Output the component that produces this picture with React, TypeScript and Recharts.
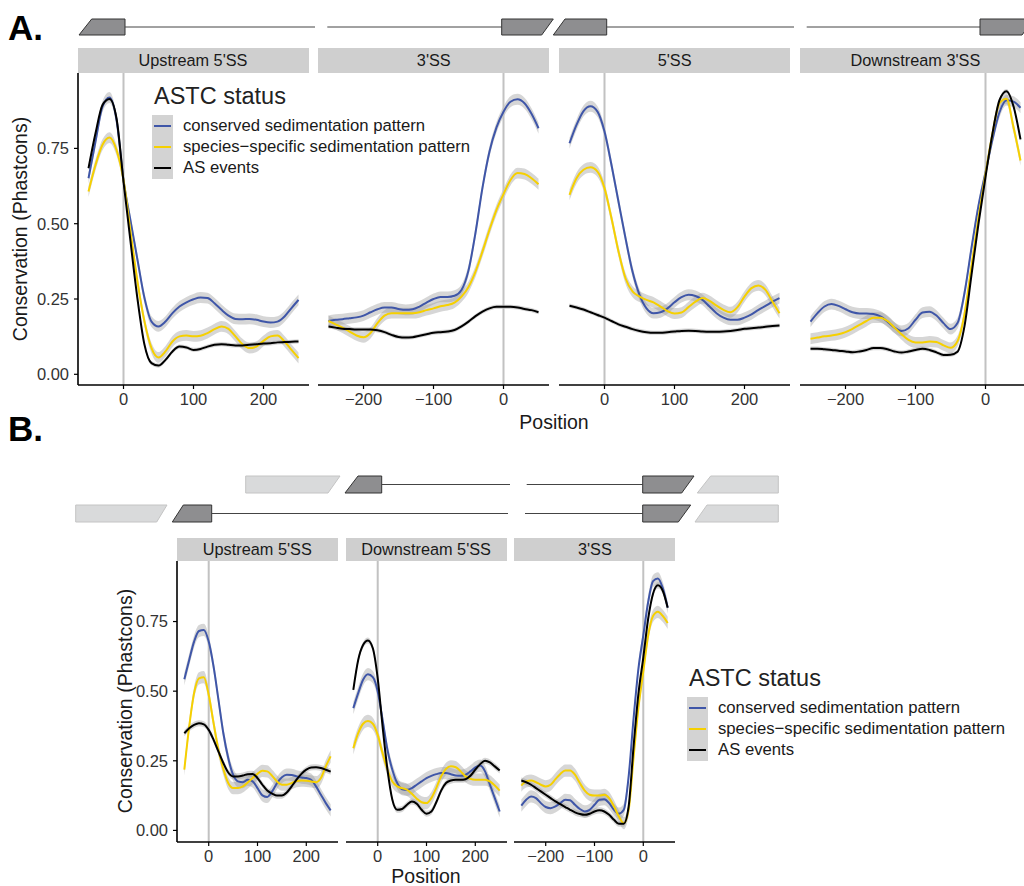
import { ComposedChart, Line, Area, XAxis, YAxis, ReferenceLine } from 'recharts'

// positions relative to the splice site (nt)
const pos5 = [-50, -40, -30, -20, -10, 0, 10, 20, 30, 40, 50, 60, 70, 80, 90, 100, 110, 120, 130, 140, 150, 160, 170, 180, 190, 200, 210, 220, 230, 240, 250]
const pos3 = [-250, -240, -230, -220, -210, -200, -190, -180, -170, -160, -150, -140, -130, -120, -110, -100, -90, -80, -70, -60, -50, -40, -30, -20, -10, 0, 10, 20, 30, 40, 50]

const ticks5 = [0, 100, 200]
const ticks3 = [-200, -100, 0]
const yTicks = [0, 0.25, 0.5, 0.75]

const seriesNames = ['conserved sedimentation pattern', 'species\u2212specific sedimentation pattern', 'AS events']

// panel A
const aUp5Cons = [0.651, 0.773, 0.889, 0.919, 0.845, 0.645, 0.51, 0.38, 0.253, 0.175, 0.159, 0.175, 0.203, 0.225, 0.239, 0.249, 0.255, 0.253, 0.236, 0.214, 0.195, 0.184, 0.183, 0.184, 0.181, 0.175, 0.172, 0.175, 0.192, 0.22, 0.247]
const aUp5Spec = [0.607, 0.695, 0.762, 0.786, 0.745, 0.645, 0.474, 0.308, 0.175, 0.087, 0.056, 0.076, 0.109, 0.126, 0.129, 0.126, 0.128, 0.137, 0.15, 0.159, 0.151, 0.126, 0.1, 0.087, 0.092, 0.111, 0.126, 0.129, 0.109, 0.081, 0.054]
const aUp5As = [0.684, 0.8, 0.894, 0.914, 0.85, 0.64, 0.441, 0.25, 0.098, 0.037, 0.029, 0.048, 0.076, 0.092, 0.089, 0.081, 0.084, 0.092, 0.098, 0.1, 0.098, 0.096, 0.096, 0.098, 0.1, 0.102, 0.103, 0.106, 0.107, 0.108, 0.109]

const a3ssCons = [0.177, 0.181, 0.183, 0.186, 0.189, 0.195, 0.206, 0.216, 0.222, 0.222, 0.217, 0.214, 0.216, 0.225, 0.238, 0.25, 0.257, 0.257, 0.261, 0.28, 0.345, 0.47, 0.62, 0.74, 0.82, 0.872, 0.905, 0.913, 0.9, 0.865, 0.817]
const a3ssSpec = [0.177, 0.166, 0.155, 0.142, 0.129, 0.123, 0.137, 0.17, 0.195, 0.203, 0.203, 0.203, 0.203, 0.206, 0.213, 0.219, 0.226, 0.23, 0.238, 0.258, 0.29, 0.341, 0.408, 0.48, 0.546, 0.598, 0.645, 0.668, 0.665, 0.651, 0.631]
const a3ssAs = [0.159, 0.155, 0.151, 0.15, 0.149, 0.149, 0.149, 0.146, 0.14, 0.131, 0.124, 0.122, 0.123, 0.128, 0.133, 0.138, 0.14, 0.142, 0.147, 0.159, 0.175, 0.193, 0.208, 0.219, 0.224, 0.224, 0.224, 0.222, 0.217, 0.213, 0.206]

const a5ssCons = [0.767, 0.828, 0.874, 0.89, 0.872, 0.806, 0.695, 0.573, 0.452, 0.341, 0.264, 0.219, 0.203, 0.206, 0.219, 0.239, 0.256, 0.264, 0.26, 0.247, 0.225, 0.203, 0.188, 0.181, 0.181, 0.188, 0.199, 0.214, 0.227, 0.241, 0.253]
const a5ssSpec = [0.596, 0.651, 0.679, 0.687, 0.673, 0.618, 0.518, 0.408, 0.319, 0.275, 0.258, 0.247, 0.239, 0.225, 0.21, 0.202, 0.205, 0.223, 0.241, 0.253, 0.244, 0.228, 0.214, 0.206, 0.223, 0.258, 0.286, 0.295, 0.28, 0.241, 0.203]
const a5ssAs = [0.228, 0.222, 0.215, 0.206, 0.197, 0.188, 0.177, 0.166, 0.158, 0.15, 0.144, 0.14, 0.138, 0.138, 0.14, 0.142, 0.144, 0.145, 0.144, 0.142, 0.141, 0.141, 0.142, 0.144, 0.147, 0.151, 0.153, 0.155, 0.158, 0.16, 0.162]

const aDown3Cons = [0.175, 0.203, 0.225, 0.233, 0.227, 0.216, 0.206, 0.202, 0.202, 0.2, 0.192, 0.175, 0.155, 0.144, 0.153, 0.181, 0.205, 0.208, 0.195, 0.17, 0.15, 0.17, 0.27, 0.42, 0.56, 0.67, 0.78, 0.87, 0.91, 0.905, 0.885]
const aDown3Spec = [0.118, 0.122, 0.126, 0.129, 0.133, 0.14, 0.151, 0.164, 0.177, 0.188, 0.188, 0.177, 0.155, 0.133, 0.114, 0.106, 0.106, 0.109, 0.107, 0.096, 0.088, 0.11, 0.2, 0.36, 0.52, 0.665, 0.8, 0.9, 0.915, 0.82, 0.71]
const aDown3As = [0.085, 0.085, 0.083, 0.081, 0.078, 0.076, 0.073, 0.076, 0.081, 0.087, 0.087, 0.083, 0.076, 0.072, 0.076, 0.081, 0.085, 0.081, 0.073, 0.064, 0.065, 0.075, 0.16, 0.33, 0.5, 0.655, 0.8, 0.91, 0.94, 0.89, 0.78]

// panel B
const bUp5Cons = [0.543, 0.612, 0.678, 0.716, 0.72, 0.678, 0.588, 0.469, 0.349, 0.26, 0.2, 0.176, 0.173, 0.182, 0.176, 0.152, 0.126, 0.12, 0.14, 0.17, 0.191, 0.2, 0.199, 0.194, 0.19, 0.188, 0.182, 0.158, 0.128, 0.098, 0.072]
const bUp5Spec = [0.218, 0.373, 0.493, 0.546, 0.55, 0.487, 0.385, 0.289, 0.22, 0.17, 0.152, 0.152, 0.158, 0.172, 0.188, 0.203, 0.214, 0.212, 0.196, 0.176, 0.164, 0.164, 0.17, 0.177, 0.179, 0.178, 0.176, 0.173, 0.188, 0.23, 0.266]
const bUp5As = [0.349, 0.367, 0.379, 0.385, 0.381, 0.361, 0.325, 0.283, 0.242, 0.208, 0.194, 0.194, 0.197, 0.202, 0.203, 0.188, 0.164, 0.143, 0.132, 0.125, 0.125, 0.136, 0.158, 0.182, 0.203, 0.218, 0.226, 0.227, 0.224, 0.218, 0.211]

const bDown5Cons = [0.439, 0.493, 0.541, 0.561, 0.55, 0.499, 0.397, 0.289, 0.218, 0.17, 0.148, 0.146, 0.152, 0.164, 0.176, 0.188, 0.196, 0.202, 0.206, 0.206, 0.202, 0.197, 0.196, 0.2, 0.212, 0.226, 0.233, 0.212, 0.164, 0.116, 0.068]
const bDown5Spec = [0.295, 0.349, 0.383, 0.393, 0.383, 0.343, 0.277, 0.218, 0.176, 0.158, 0.152, 0.146, 0.132, 0.114, 0.101, 0.098, 0.116, 0.152, 0.194, 0.221, 0.23, 0.227, 0.212, 0.194, 0.185, 0.182, 0.182, 0.182, 0.176, 0.161, 0.143]
const bDown5As = [0.505, 0.612, 0.666, 0.682, 0.654, 0.546, 0.373, 0.218, 0.11, 0.074, 0.077, 0.092, 0.104, 0.096, 0.074, 0.06, 0.068, 0.101, 0.143, 0.17, 0.179, 0.182, 0.182, 0.184, 0.196, 0.218, 0.238, 0.25, 0.244, 0.23, 0.215]

const b3ssCons = [0.089, 0.11, 0.122, 0.116, 0.098, 0.084, 0.08, 0.086, 0.098, 0.11, 0.108, 0.092, 0.077, 0.068, 0.074, 0.092, 0.11, 0.112, 0.098, 0.074, 0.06, 0.074, 0.194, 0.4, 0.58, 0.7, 0.82, 0.895, 0.905, 0.87, 0.8]
const b3ssSpec = [0.161, 0.176, 0.179, 0.173, 0.164, 0.158, 0.164, 0.184, 0.203, 0.215, 0.215, 0.2, 0.17, 0.143, 0.128, 0.125, 0.125, 0.128, 0.116, 0.086, 0.05, 0.026, 0.074, 0.26, 0.44, 0.57, 0.7, 0.77, 0.785, 0.77, 0.745]
const b3ssAs = [0.179, 0.173, 0.164, 0.152, 0.14, 0.128, 0.116, 0.104, 0.094, 0.084, 0.074, 0.065, 0.059, 0.056, 0.06, 0.068, 0.072, 0.068, 0.056, 0.038, 0.024, 0.024, 0.086, 0.3, 0.49, 0.62, 0.76, 0.85, 0.88, 0.86, 0.8]

// half width of the grey ribbon (conserved, species-specific, AS events)
const ribbonA = [0.018, 0.018, 0.007]
const ribbonB = [0.022, 0.022, 0.011]

const BLUE = '#3f56a8'
const GOLD = '#f6d000'
const FONT = '"Liberation Sans", Arial, Helvetica, sans-serif'

function makeRows(pos: number[], cons: number[], spec: number[], as: number[], rib: number[]) {
  return pos.map((p, i) => ({
    pos: p,
    cons: cons[i],
    spec: spec[i],
    as: as[i],
    consBand: [cons[i] - rib[0], cons[i] + rib[0]],
    specBand: [spec[i] - rib[1], spec[i] + rib[1]],
    asBand: [as[i] - rib[2], as[i] + rib[2]],
  }))
}

const fmtX = (v: number) => (v < 0 ? '\u2212' + Math.abs(v) : String(v))

function Facet({ left, top, width, height, rows, xDomain, xTicks, yDomain, showY }: any) {
  const yw = showY ? 70 : 0
  const xh = 36
  const tickStyle = { fill: '#333', fontSize: 16.5, fontFamily: FONT }
  return (
    <div style={{ position: 'absolute', left: left - yw, top }}>
      <ComposedChart width={width + yw} height={height + xh} data={rows} margin={{ top: 0, right: 0, bottom: 0, left: 0 }}>
        <XAxis
          type="number"
          dataKey="pos"
          domain={xDomain}
          ticks={xTicks}
          interval={0}
          allowDataOverflow
          height={xh}
          axisLine={{ stroke: '#000', strokeWidth: 1.6 }}
          tickLine={{ stroke: '#000', strokeWidth: 1.2 }}
          tickSize={4}
          tickMargin={4}
          tick={tickStyle}
          tickFormatter={fmtX}
        />
        <YAxis
          type="number"
          domain={yDomain}
          allowDataOverflow
          ticks={yTicks}
          hide={!showY}
          width={yw}
          axisLine={{ stroke: '#000', strokeWidth: 1.6 }}
          tickLine={{ stroke: '#000', strokeWidth: 1.2 }}
          tickSize={4}
          tickMargin={5}
          tick={tickStyle}
          tickFormatter={(v: number) => v.toFixed(2)}
        />
        <ReferenceLine x={0} stroke="#c2c2c2" strokeWidth={2} />
        <Area type="monotone" dataKey="consBand" stroke="none" fill="#999" fillOpacity={0.4} activeDot={false} isAnimationActive={false} />
        <Area type="monotone" dataKey="specBand" stroke="none" fill="#999" fillOpacity={0.4} activeDot={false} isAnimationActive={false} />
        <Area type="monotone" dataKey="asBand" stroke="none" fill="#999" fillOpacity={0.4} activeDot={false} isAnimationActive={false} />
        <Line type="monotone" dataKey="cons" stroke={BLUE} strokeWidth={2} dot={false} activeDot={false} isAnimationActive={false} />
        <Line type="monotone" dataKey="spec" stroke={GOLD} strokeWidth={2} dot={false} activeDot={false} isAnimationActive={false} />
        <Line type="monotone" dataKey="as" stroke="#000" strokeWidth={2} dot={false} activeDot={false} isAnimationActive={false} />
      </ComposedChart>
    </div>
  )
}

function Strip({ left, top, width, height, label }: any) {
  return (
    <div style={{ position: 'absolute', left, top, width, height, background: '#cfcfcf', display: 'flex', alignItems: 'center', justifyContent: 'center', fontSize: 16.3, color: '#1a1a1a' }}>
      {label}
    </div>
  )
}

function Legend({ left, top }: any) {
  const cols = [BLUE, GOLD, '#000']
  return (
    <div style={{ position: 'absolute', left, top }}>
      <div style={{ fontSize: 23.5, lineHeight: '23.5px', color: '#222', marginLeft: 2, whiteSpace: 'nowrap' }}>ASTC status</div>
      <div style={{ position: 'absolute', left: 0, top: 30, width: 21, height: 64, background: '#d3d3d3' }} />
      {seriesNames.map((n, i) => (
        <div key={n} style={{ position: 'absolute', left: 0, top: 30.5 + i * 21.2, height: 21, display: 'flex', alignItems: 'center', whiteSpace: 'nowrap' }}>
          <div style={{ width: 17, height: 2, background: cols[i], marginLeft: 2 }} />
          <span style={{ marginLeft: 12, fontSize: 16.7, color: '#1a1a1a' }}>{n}</span>
        </div>
      ))}
    </div>
  )
}

const dark = { fill: '#8e8e90', stroke: '#333', strokeWidth: 1 }
const light = { fill: '#d9dadb', stroke: '#c4c4c4', strokeWidth: 1 }
const intron = { stroke: '#444', strokeWidth: 1 }

function Diagrams() {
  return (
    <svg width={1024} height={886} style={{ position: 'absolute', left: 0, top: 0, pointerEvents: 'none' }}>
      {/* panel A */}
      <polygon points="91.7,19 125,19 125,35 79,35" {...dark} />
      <line x1={125} y1={27} x2={315} y2={27} {...intron} />
      <line x1={327.3} y1={27} x2={501.7} y2={27} {...intron} />
      <polygon points="501.7,19 553.3,19 541.7,35 501.7,35" {...dark} />
      <polygon points="565,19 606.7,19 606.7,35 553.3,35" {...dark} />
      <line x1={606.7} y1={27} x2={794} y2={27} {...intron} />
      <line x1={806.7} y1={27} x2={980} y2={27} {...intron} />
      <polygon points="980,19 1034,19 1022,35 980,35" {...dark} />
      {/* panel B, top row */}
      <polygon points="245.7,476 340,476 328,493 245.7,493" {...light} />
      <polygon points="358,476 381.7,476 381.7,493 345,493" {...dark} />
      <line x1={381.7} y1={484.5} x2={510} y2={484.5} {...intron} />
      <line x1={526.7} y1={484.5} x2={642.7} y2={484.5} {...intron} />
      <polygon points="642.7,476 694,476 681.7,493 642.7,493" {...dark} />
      <polygon points="710.7,476 778.3,476 778.3,493 697.3,493" {...light} />
      {/* panel B, bottom row */}
      <polygon points="75.7,505 167,505 156.7,522 75.7,522" {...light} />
      <polygon points="183.3,505 211.7,505 211.7,522 172.3,522" {...dark} />
      <line x1={211.7} y1={513.5} x2={508} y2={513.5} {...intron} />
      <line x1={525} y1={513.5} x2={642.7} y2={513.5} {...intron} />
      <polygon points="642.7,505 690.7,505 678.3,522 642.7,522" {...dark} />
      <polygon points="707,505 778.3,505 778.3,522 695,522" {...light} />
    </svg>
  )
}

export default function App() {
  const aFacets = [
    { label: "Upstream 5'SS", rows: makeRows(pos5, aUp5Cons, aUp5Spec, aUp5As, ribbonA), xDomain: [-65, 265], xTicks: ticks5 },
    { label: "3'SS", rows: makeRows(pos3, a3ssCons, a3ssSpec, a3ssAs, ribbonA), xDomain: [-265, 65], xTicks: ticks3 },
    { label: "5'SS", rows: makeRows(pos5, a5ssCons, a5ssSpec, a5ssAs, ribbonA), xDomain: [-65, 265], xTicks: ticks5 },
    { label: "Downstream 3'SS", rows: makeRows(pos3, aDown3Cons, aDown3Spec, aDown3As, ribbonA), xDomain: [-265, 65], xTicks: ticks3 },
  ]
  const bFacets = [
    { label: "Upstream 5'SS", rows: makeRows(pos5, bUp5Cons, bUp5Spec, bUp5As, ribbonB), xDomain: [-65, 265], xTicks: ticks5 },
    { label: "Downstream 5'SS", rows: makeRows(pos5, bDown5Cons, bDown5Spec, bDown5As, ribbonB), xDomain: [-65, 265], xTicks: ticks5 },
    { label: "3'SS", rows: makeRows(pos3, b3ssCons, b3ssSpec, b3ssAs, ribbonB), xDomain: [-265, 65], xTicks: ticks3 },
  ]
  const aLeft = [77.5, 318.3, 559.1, 799.9]
  const bLeft = [176.8, 345.6, 514.4]

  return (
    <div style={{ position: 'absolute', left: 0, top: 0, width: 1024, height: 886, overflow: 'hidden', background: '#fff', fontFamily: FONT, color: '#1a1a1a' }}>
      <Diagrams />
      <div style={{ position: 'absolute', left: 8, top: 10, fontSize: 35, lineHeight: '35px', fontWeight: 700, color: '#000' }}>A.</div>
      <div style={{ position: 'absolute', left: 8, top: 411, fontSize: 35, lineHeight: '35px', fontWeight: 700, color: '#000' }}>B.</div>

      {aFacets.map((f, i) => (
        <Strip key={'sa' + i} left={aLeft[i]} top={48} width={231} height={25} label={f.label} />
      ))}
      {aFacets.map((f, i) => (
        <Facet key={'fa' + i} left={aLeft[i]} top={73} width={231} height={312} rows={f.rows} xDomain={f.xDomain} xTicks={f.xTicks} yDomain={[-0.0355, 1.0003]} showY={i === 0} />
      ))}
      <div style={{ position: 'absolute', left: 20, top: 229, transform: 'translate(-50%, -50%) rotate(-90deg)', fontSize: 19.5, whiteSpace: 'nowrap' }}>Conservation (Phastcons)</div>
      <div style={{ position: 'absolute', left: 554, top: 422, transform: 'translate(-50%, -50%)', fontSize: 19.5 }}>Position</div>
      <Legend left={152} top={85} />

      {bFacets.map((f, i) => (
        <Strip key={'sb' + i} left={bLeft[i]} top={538} width={161} height={23} label={f.label} />
      ))}
      {bFacets.map((f, i) => (
        <Facet key={'fb' + i} left={bLeft[i]} top={561} width={161} height={281} rows={f.rows} xDomain={f.xDomain} xTicks={f.xTicks} yDomain={[-0.0416, 0.9674]} showY={i === 0} />
      ))}
      <div style={{ position: 'absolute', left: 125, top: 701, transform: 'translate(-50%, -50%) rotate(-90deg)', fontSize: 19.5, whiteSpace: 'nowrap' }}>Conservation (Phastcons)</div>
      <div style={{ position: 'absolute', left: 426, top: 876, transform: 'translate(-50%, -50%)', fontSize: 19.5 }}>Position</div>
      <Legend left={687} top={667} />
    </div>
  )
}
